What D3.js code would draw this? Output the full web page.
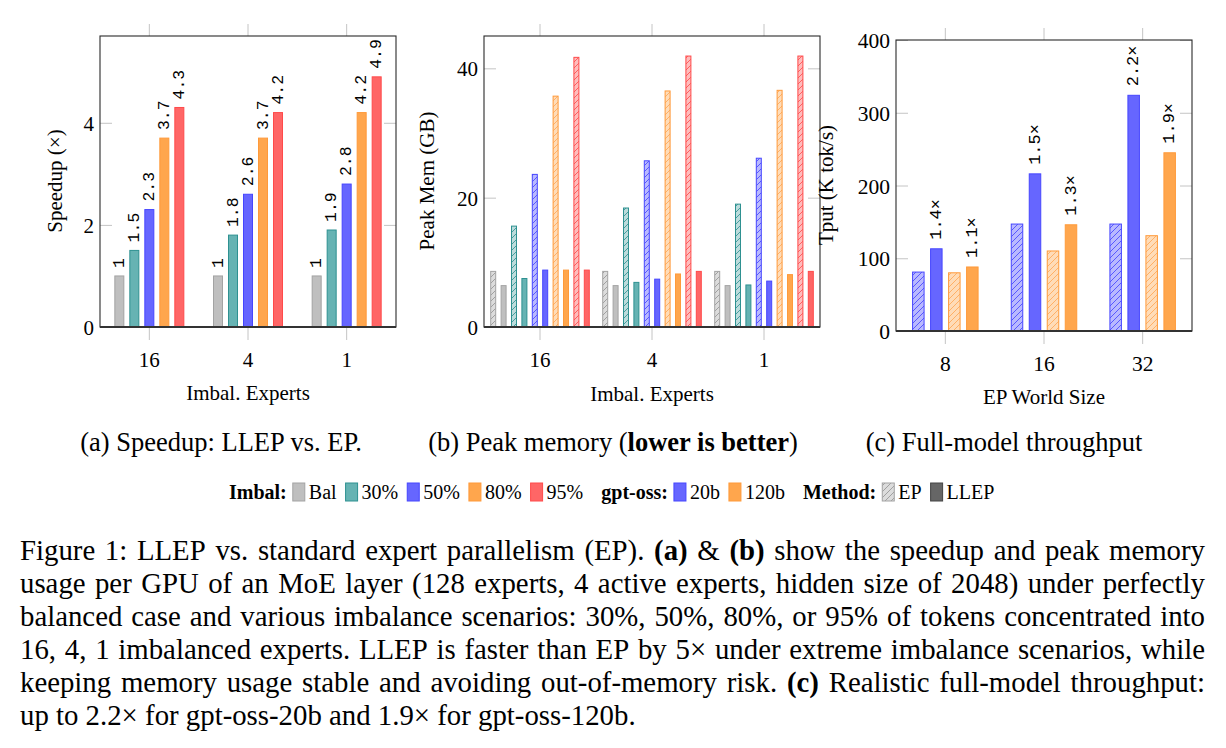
<!DOCTYPE html>
<html>
<head>
<meta charset="utf-8">
<script src="https://cdn.jsdelivr.net/npm/d3@7/dist/d3.min.js"></script>
<style>
  body { margin: 0; background: #fff; }
  svg text { font-family: "Liberation Serif", "Times New Roman", serif; fill: #000; }
  svg text.val { font-family: "Liberation Mono", "DejaVu Sans Mono", monospace; }
</style>
</head>
<body>
<div id="fig"></div>
<script>
// ---- data ----
const imbalExperts = ["16", "4", "1"]
const imbalLevels = ["Bal", "30%", "50%", "80%", "95%"]
// (a) speedup of LLEP over EP, one array per imbalance level, over 16 / 4 / 1 experts
const speedupBal = [1, 1, 1]
const speedup30 = [1.5, 1.8, 1.9]
const speedup50 = [2.3, 2.6, 2.8]
const speedup80 = [3.7, 3.7, 4.2]
const speedup95 = [4.3, 4.2, 4.9]
// (b) peak memory (GB)
const memEPBal = [8.6, 8.6, 8.6]
const memLLEPBal = [6.4, 6.4, 6.4]
const memEP30 = [15.6, 18.4, 19.0]
const memLLEP30 = [7.5, 6.9, 6.5]
const memEP50 = [23.6, 25.7, 26.1]
const memLLEP50 = [8.8, 7.4, 7.1]
const memEP80 = [35.7, 36.5, 36.6]
const memLLEP80 = [8.8, 8.2, 8.1]
const memEP95 = [41.7, 41.9, 41.9]
const memLLEP95 = [8.8, 8.6, 8.6]
// (c) full model throughput (K tok/s)
const worldSizes = ["8", "16", "32"]
const tput20bEP = [81, 147, 147]
const tput20bLLEP = [113, 216, 324]
const tput120bEP = [80, 110, 131]
const tput120bLLEP = [88, 146, 245]
const gain20b = ["1.4×", "1.5×", "2.2×"]
const gain120b = ["1.1×", "1.3×", "1.9×"]

const captionLines = [
  "Figure 1: LLEP vs. standard expert parallelism (EP). **(a)** & **(b)** show the speedup and peak memory",
  "usage per GPU of an MoE layer (128 experts, 4 active experts, hidden size of 2048) under perfectly",
  "balanced case and various imbalance scenarios: 30%, 50%, 80%, or 95% of tokens concentrated into",
  "16, 4, 1 imbalanced experts. LLEP is faster than EP by 5× under extreme imbalance scenarios, while",
  "keeping memory usage stable and avoiding out-of-memory risk. **(c)** Realistic full-model throughput:",
  "up to 2.2× for gpt-oss-20b and 1.9× for gpt-oss-120b."
]

// colours (pgf style: colour!60 fill, darker outline, light fill + hatch for EP)
const palette = {
  gray: { fill: "#bfbfbf", stroke: "#a3a3a3", light: "#dcdcdc", line: "#9a9a9a" },
  teal: { fill: "#66b3b3", stroke: "#2e9191", light: "#bcdcdc", line: "#3a9999" },
  blue: { fill: "#6666ff", stroke: "#4646ff", light: "#b9b9ff", line: "#4d4dff" },
  orange: { fill: "#ffa64d", stroke: "#ff9a3a", light: "#ffdcb8", line: "#ffac5c" },
  red: { fill: "#ff6666", stroke: "#ff4a4a", light: "#ffbcbc", line: "#ff5555" },
  dark: { fill: "#666666", stroke: "#444444", light: "#666666", line: "#444444" }
}
const levelColor = ["gray", "teal", "blue", "orange", "red"]

let width = 1226
let height = 748
let svg = d3.select("#fig").append("svg")
  .attr("width", width)
  .attr("height", height)
let defs = svg.append("defs")

function hatch(name) {
  let c = palette[name]
  let p = defs.append("pattern")
    .attr("id", "hatch-" + name)
    .attr("patternUnits", "userSpaceOnUse")
    .attr("width", 6).attr("height", 6)
  p.append("rect").attr("width", 6).attr("height", 6).attr("fill", c.light)
  p.append("path")
    .attr("d", "M-1,1 l2,-2 M0,6 l6,-6 M5,7 l2,-2")
    .attr("stroke", c.line)
    .attr("stroke-width", 0.9)
  return `url(#hatch-${name})`
}
let hatchFill = {}
Object.keys(palette).forEach(k => hatchFill[k] = hatch(k))

function panel(opt) {
  let g = svg.append("g")
  let x = d3.scaleBand().domain(opt.cats).range([opt.left, opt.right])
  let y = d3.scaleLinear().domain([0, opt.ymax]).range([opt.bottom, opt.top])
  let n = opt.series.length
  let pad = 1 - opt.barW / opt.step
  let inner = d3.scaleBand().domain(d3.range(n))
    .range([-n * opt.step / 2, n * opt.step / 2])
    .paddingInner(pad).paddingOuter(pad / 2)

  //刻度
  let grey = "#c4c4c4"
  let bx = g.append("g").attr("transform", `translate(0,${opt.bottom})`)
    .call(d3.axisBottom(x).tickSize(13).tickPadding(12))
  let tx = g.append("g").attr("transform", `translate(0,${opt.top})`)
    .call(d3.axisTop(x).tickSize(12).tickFormat(""))
  let ly = g.append("g").attr("transform", `translate(${opt.left},0)`)
    .call(d3.axisLeft(y).tickValues(opt.ticks).tickFormat(d3.format("d")).tickSize(-12).tickPadding(6))
  let ry = g.append("g").attr("transform", `translate(${opt.right},0)`)
    .call(d3.axisRight(y).tickValues(opt.ticks).tickSize(-12).tickFormat(""))
  ;[bx, tx, ly, ry].forEach(a => {
    a.select(".domain").remove()
    a.selectAll("line").attr("stroke", grey)
    a.selectAll("text")
      .attr("font-family", "Liberation Serif")
      .attr("font-size", opt.tickFont)
      .attr("fill", "#000")
  })
  ly.selectAll("text").attr("dy", "0.35em")

  //柱子
  opt.series.forEach((s, k) => {
    let c = palette[s.color]
    g.append("g").selectAll("rect")
      .data(s.values)
      .enter()
      .append("rect")
      .attr("x", (d, j) => x(opt.cats[j]) + x.bandwidth() / 2 + inner(k))
      .attr("width", inner.bandwidth())
      .attr("y", d => y(d))
      .attr("height", d => y(0) - y(d))
      .attr("fill", s.ep ? hatchFill[s.color] : c.fill)
      .attr("stroke", c.stroke)
      .attr("stroke-width", 1)
    if (s.labels) {
      g.append("g").selectAll("text")
        .data(s.values)
        .enter()
        .append("text")
        .attr("class", "val")
        .attr("font-size", opt.valFont)
        .attr("dominant-baseline", "central")
        .attr("transform", (d, j) => {
          let cx = x(opt.cats[j]) + x.bandwidth() / 2 + inner(k) + inner.bandwidth() / 2
          return `translate(${cx},${y(d) - opt.valGap}) rotate(-90)`
        })
        .text((d, j) => s.labels[j])
    }
  })

  //边框
  g.append("rect")
    .attr("x", opt.left).attr("y", opt.top)
    .attr("width", opt.right - opt.left).attr("height", opt.bottom - opt.top)
    .attr("fill", "none").attr("stroke", "#2a2a2a").attr("stroke-width", 1.1)
  g.append("line")
    .attr("x1", opt.left).attr("x2", opt.right)
    .attr("y1", opt.bottom).attr("y2", opt.bottom)
    .attr("stroke", "#333").attr("stroke-width", 2)

  //轴标题
  g.append("text")
    .attr("x", (opt.left + opt.right) / 2)
    .attr("y", opt.xTitleY)
    .attr("text-anchor", "middle")
    .attr("font-size", opt.titleFont)
    .text(opt.xTitle)
  g.append("text")
    .attr("transform", `translate(${opt.yTitleX},${opt.yTitleY}) rotate(-90)`)
    .attr("text-anchor", "middle")
    .attr("font-size", opt.titleFont)
    .text(opt.yTitle)
}

let fmt = d => String(d)

// (a)
let speedSeries = [speedupBal, speedup30, speedup50, speedup80, speedup95]
panel({
  left: 100, right: 396, top: 36, bottom: 327,
  cats: imbalExperts, ymax: 5.7, ticks: [0, 2, 4],
  step: 15, barW: 9,
  series: speedSeries.map((v, i) => ({ values: v, color: levelColor[i], labels: v.map(fmt) })),
  valFont: 16.5, valGap: 8,
  tickFont: 21, titleFont: 21,
  xTitle: "Imbal. Experts", xTitleY: 400,
  yTitle: "Speedup (×)", yTitleX: 62, yTitleY: 181
})

// (b)
let memEP = [memEPBal, memEP30, memEP50, memEP80, memEP95]
let memLLEP = [memLLEPBal, memLLEP30, memLLEP50, memLLEP80, memLLEP95]
let memSeries = []
imbalLevels.forEach((lv, i) => {
  memSeries.push({ values: memEP[i], color: levelColor[i], ep: true })
  memSeries.push({ values: memLLEP[i], color: levelColor[i], ep: false })
})
panel({
  left: 484, right: 820, top: 36, bottom: 327,
  cats: imbalExperts, ymax: 45, ticks: [0, 20, 40],
  step: 10.4, barW: 5,
  series: memSeries,
  tickFont: 21, titleFont: 21,
  xTitle: "Imbal. Experts", xTitleY: 401,
  yTitle: "Peak Mem (GB)", yTitleX: 434, yTitleY: 181
})

// (c)
panel({
  left: 896, right: 1192, top: 40, bottom: 331,
  cats: worldSizes, ymax: 400, ticks: [0, 100, 200, 300, 400],
  step: 18, barW: 11.5,
  series: [
    { values: tput20bEP, color: "blue", ep: true },
    { values: tput20bLLEP, color: "blue", labels: gain20b },
    { values: tput120bEP, color: "orange", ep: true },
    { values: tput120bLLEP, color: "orange", labels: gain120b }
  ],
  valFont: 17, valGap: 9,
  tickFont: 21.5, titleFont: 21,
  xTitle: "EP World Size", xTitleY: 404,
  yTitle: "Tput (K tok/s)", yTitleX: 833, yTitleY: 185
})

// sub captions
let subCaps = [
  { x: 221, parts: [["(a) Speedup: LLEP vs. EP.", false]] },
  { x: 613, parts: [["(b) Peak memory (", false], ["lower is better", true], [")", false]] },
  { x: 1004, parts: [["(c) Full-model throughput", false]] }
]
subCaps.forEach(c => {
  let t = svg.append("text")
    .attr("x", c.x).attr("y", 451)
    .attr("text-anchor", "middle")
    .attr("font-size", 26.5)
  c.parts.forEach(p => t.append("tspan").attr("font-weight", p[1] ? "bold" : null).text(p[0]))
})

// legend
let legendItems = [
  { head: "Imbal:" },
  { color: "gray", text: "Bal" }, { color: "teal", text: "30%" }, { color: "blue", text: "50%" },
  { color: "orange", text: "80%" }, { color: "red", text: "95%" },
  { head: "gpt-oss:" },
  { color: "blue", text: "20b" }, { color: "orange", text: "120b" },
  { head: "Method:" },
  { color: "gray", text: "EP", ep: true }, { color: "dark", text: "LLEP" }
]
let legend = svg.append("g")
let lx = 229
let ly = 499
legendItems.forEach((it, i) => {
  if (it.head) {
    if (i > 0) lx += 9
    let t = legend.append("text").attr("x", lx).attr("y", ly)
      .attr("font-size", 20).attr("font-weight", "bold").text(it.head)
    lx += t.node().getComputedTextLength() + 6
  } else {
    let c = palette[it.color]
    legend.append("rect")
      .attr("x", lx).attr("y", ly - 16).attr("width", 12).attr("height", 18)
      .attr("fill", it.ep ? hatchFill[it.color] : c.fill)
      .attr("stroke", c.stroke).attr("stroke-width", 1)
    lx += 16
    let t = legend.append("text").attr("x", lx).attr("y", ly)
      .attr("font-size", 20).text(it.text)
    lx += t.node().getComputedTextLength() + 9
  }
})

// caption paragraph, justified line by line
let capLeft = 20
let capRight = 1205
let capFont = 28.8
captionLines.forEach((line, i) => {
  let y = 560 + i * 33
  let words = line.split(" ").map(w => {
    let bold = w.startsWith("**")
    return { text: bold ? w.replace(/\*\*/g, "") : w, bold: bold }
  })
  let cap = svg.append("g")
  let nodes = words.map(w => cap.append("text")
    .attr("y", y)
    .attr("font-size", capFont)
    .attr("font-weight", w.bold ? "bold" : null)
    .text(w.text))
  let widths = nodes.map(nd => nd.node().getComputedTextLength())
  let total = d3.sum(widths)
  let last = i === captionLines.length - 1
  let gap = last ? capFont * 0.25 : (capRight - capLeft - total) / (words.length - 1)
  let cx = capLeft
  nodes.forEach((nd, k) => {
    nd.attr("x", cx)
    cx += widths[k] + gap
  })
})
</script>
</body>
</html>
